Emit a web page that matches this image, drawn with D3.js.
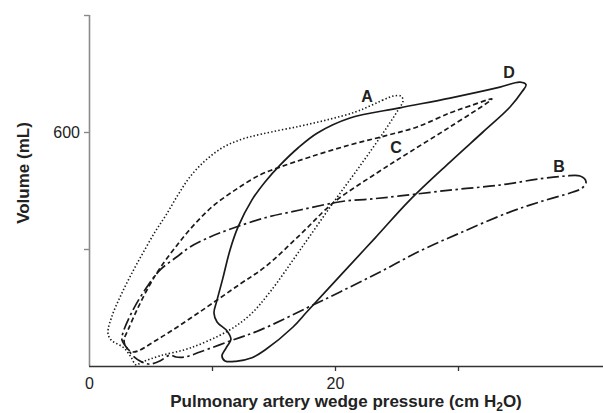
<!DOCTYPE html>
<html>
<head>
<meta charset="utf-8">
<script src="https://cdn.jsdelivr.net/npm/d3@7"></script>
<style>
  html, body { margin: 0; padding: 0; background: #fff; }
  svg { display: block; font-family: "Liberation Sans", Arial, Helvetica, sans-serif; }
</style>
</head>
<body>
<svg id="chart" width="603" height="413"></svg>
<script>
// Pressure–volume loops: each point is [wedge pressure (cm H2O), volume (mL)]
const loopA = [
  [24.72,692],[23.90,682],[22.85,667],[21.63,651],[19.59,633],[17.15,615],[14.07,595],
  [12.28,580],[10.81,559],[9.43,526],[8.21,485],[7.24,439],[6.26,387],[5.37,344],
  [4.39,290],[3.50,239],[2.60,182],[1.87,128],[1.54,85],[1.79,67],[2.85,46],[3.41,23],
  [3.82,3],[4.31,10],[5.77,26],[8.21,46],[11.30,90],[13.09,131],[14.72,190],[17.15,297],
  [19.84,418],[22.03,513],[23.90,597],[25.12,656],[25.53,680],[25.37,692]
];
const loopB = [
  [40.41,472],[39.92,487],[38.70,487],[36.67,480],[33.41,464],[29.35,451],[25.28,436],
  [22.85,428],[20.81,423],[19.84,418],[17.15,400],[14.31,380],[11.30,349],[9.84,331],
  [8.21,305],[7.15,280],[5.77,246],[4.72,203],[3.58,144],[2.76,85],[2.68,67],[3.09,46],
  [3.58,26],[4.31,10],[4.96,5],[5.77,13],[6.59,28],[7.07,23],[7.80,23],[9.02,36],
  [11.46,64],[13.90,92],[17.72,149],[20.41,190],[23.66,241],[26.91,295],[30.16,341],
  [33.98,392],[36.67,421],[39.35,446],[40.08,456]
];
const loopC = [
  [32.76,685],[30.98,667],[29.35,649],[26.67,613],[24.07,590],[21.22,567],[17.97,536],
  [15.53,510],[13.90,490],[11.87,451],[10.00,408],[8.37,356],[6.99,303],[5.77,251],
  [4.80,200],[3.90,144],[3.17,92],[2.85,67],[3.01,49],[3.58,36],[5.77,72],[9.02,139],
  [12.28,210],[14.31,254],[17.15,336],[19.84,418],[23.41,495],[26.10,549],[29.35,613],
  [32.60,680]
];
const loopD = [
  [35.04,728],[33.41,715],[29.35,687],[25.28,662],[21.22,636],[18.54,597],[16.99,559],
  [15.53,515],[14.31,472],[13.25,426],[12.11,356],[11.46,297],[10.89,226],[10.41,169],
  [10.16,136],[10.41,113],[11.22,90],[11.54,69],[11.14,46],[10.81,26],[11.06,13],
  [11.95,12],[13.25,21],[14.31,41],[16.59,100],[17.72,139],[20.41,231],[23.25,328],
  [26.10,426],[29.35,523],[32.03,600],[34.23,664],[35.20,703],[35.53,721]
];
const loopNames = ["A", "B", "C", "D"];
// where each loop's letter sits, in pressure / volume units
const letterPressure = [22.60, 38.21, 24.96, 34.15];
const letterVolume = [677, 497, 546, 738];

const xTickValues = [0, 10, 20, 30];
const xTickText = { 0: "0", 20: "20" };
const yTickValues = [300, 600, 900];
const yTickText = { 600: "600" };

const svg = d3.select("#chart");
const x = d3.scaleLinear().domain([0, 42]).range([89, 605.6]);
const y = d3.scaleLinear().domain([0, 900]).range([366, 15]);

// y axis (grey)
const yAxis = svg.append("g")
  .attr("transform", `translate(${x(0)},0)`)
  .call(d3.axisLeft(y).tickValues(yTickValues).tickSize(5).tickSizeOuter(0)
    .tickFormat(d => yTickText[d] || ""));
yAxis.select(".domain").attr("stroke", "#8a8a8a").attr("stroke-width", 1.6)
  .attr("d", `M0.5,${y(0)}V${y(900)}`);
yAxis.selectAll(".tick line").attr("stroke", "#8a8a8a").attr("stroke-width", 1.4);
yAxis.selectAll(".tick text").attr("font-size", 16).attr("fill", "#222")
  .attr("font-family", "Liberation Sans, Arial, sans-serif").attr("dx", -1);

// x axis (dark)
const xAxis = svg.append("g")
  .attr("transform", `translate(0,${y(0)})`)
  .call(d3.axisBottom(x).tickValues(xTickValues).tickSize(5).tickSizeOuter(0)
    .tickFormat(d => xTickText[d] || ""));
xAxis.select(".domain").attr("stroke", "#333").attr("stroke-width", 1.5)
  .attr("d", `M${x(0)},0.5H603`);
xAxis.selectAll(".tick line").attr("stroke", "#333").attr("stroke-width", 1.3)
  .filter(d => d === 0).remove();
xAxis.selectAll(".tick text").attr("font-size", 16).attr("fill", "#222")
  .attr("font-family", "Liberation Sans, Arial, sans-serif").attr("dy", "0.95em");

// axis titles
svg.append("text")
  .attr("x", 346).attr("y", 407)
  .attr("text-anchor", "middle").attr("font-weight", "bold").attr("font-size", 17)
  .attr("fill", "#222")
  .call(t => {
    t.append("tspan").text("Pulmonary artery wedge pressure (cm H");
    t.append("tspan").text("2").attr("font-size", 12).attr("dy", 4);
    t.append("tspan").text("O)").attr("dy", -4);
  });
svg.append("text")
  .attr("transform", "translate(29,173) rotate(-90)")
  .attr("text-anchor", "middle").attr("font-weight", "bold").attr("font-size", 17)
  .attr("fill", "#222")
  .text("Volume (mL)");

// loops
const loops = [loopA, loopB, loopC, loopD];
const dashes = ["1.4,2.2", "12,3.5,2.5,3.5", "5,3", null];
const line = d3.line()
  .x(d => x(d[0])).y(d => y(d[1]))
  .curve(d3.curveCatmullRomClosed.alpha(0.5));

svg.append("g").selectAll("path")
  .data(loops)
  .join("path")
  .attr("d", line)
  .attr("fill", "none")
  .attr("stroke", "#1a1a1a")
  .attr("stroke-width", (d, i) => i === 0 ? 1.6 : 1.7)
  .attr("stroke-dasharray", (d, i) => dashes[i]);

// loop letters
svg.append("g").selectAll("text")
  .data(loopNames)
  .join("text")
  .attr("x", (d, i) => x(letterPressure[i]))
  .attr("y", (d, i) => y(letterVolume[i]))
  .attr("text-anchor", "middle")
  .attr("font-weight", "bold").attr("font-size", 16).attr("fill", "#222")
  .text(d => d);
</script>
</body>
</html>
